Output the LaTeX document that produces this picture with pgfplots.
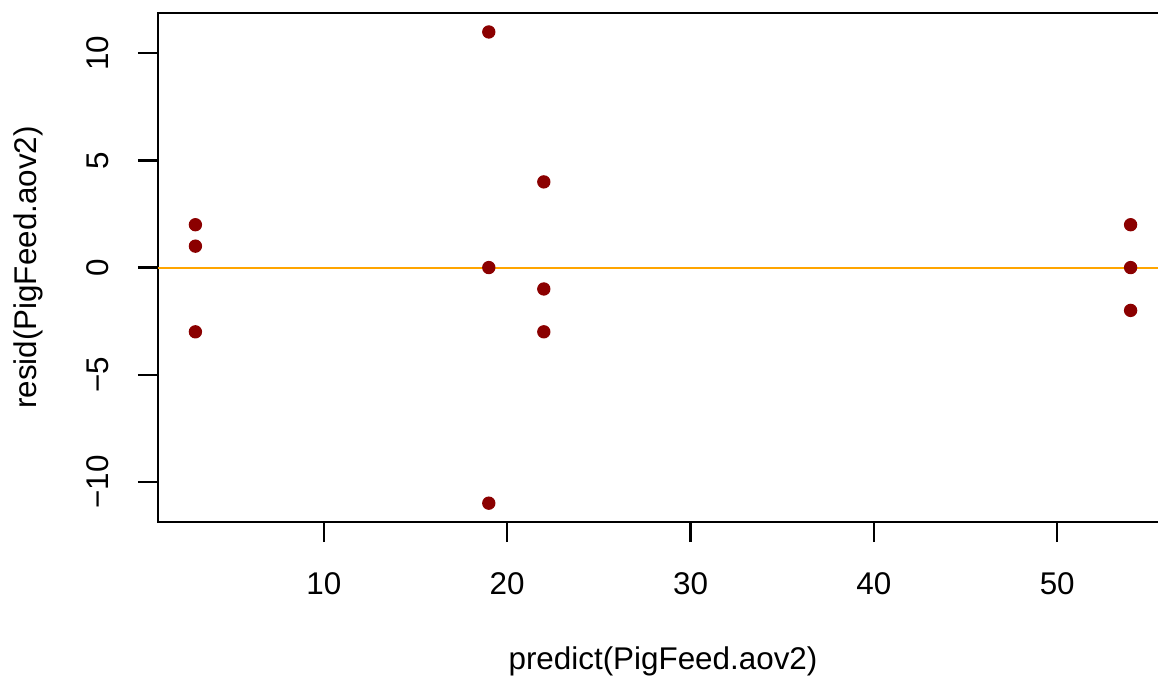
\documentclass[border=0pt]{standalone}
\usepackage{fontspec}
\setmainfont{Liberation Sans}
\usepackage{pgfplots}
\pgfplotsset{compat=1.18}
\definecolor{rdark}{HTML}{8B0000}
\definecolor{rorange}{HTML}{FFA500}
\begin{document}
\fontsize{11.3}{13.5}\selectfont
\begin{tikzpicture}[x=1pt,y=1pt]
\begin{axis}[
  at={(0,0)}, anchor=south west,
  scale only axis, width=363.6pt, height=183.2pt,
  xmin=0.96, xmax=56.04, ymin=-11.88, ymax=11.88,
  xtick={10,20,30,40,50},
  ytick={-10,-5,0,5,10},
  yticklabels={−10,−5,0,5,10},
  tick align=outside, xtick pos=bottom, ytick pos=left,
  major tick length=7.2pt,
  axis line style={line width=0.8pt},
  every tick/.style={black, line width=0.8pt},
  /pgf/number format/assume math mode=true,
  tick label style={font=\fontsize{11.3}{13.5}\selectfont},
  xticklabel style={anchor=north, yshift=-7.2pt},
  yticklabel style={xshift=-6.5pt, rotate=90, anchor=south},
  xlabel={predict(PigFeed.aov2)},
  ylabel={resid(PigFeed.aov2)},
  every axis x label/.style={at={(axis description cs:0.5,-0.2731)}, anchor=center},
  every axis y label/.style={at={(axis description cs:-0.1287,0.5)}, anchor=center, rotate=90},
  label style={font=\fontsize{11.3}{13.5}\selectfont},
]
\addplot[only marks, mark=*, mark size=2.2pt, mark options={draw=rdark, fill=rdark}] coordinates {
(3,2) (3,1) (3,-3)
(19,11) (19,0) (19,-11)
(22,4) (22,-1) (22,-3)
(54,2) (54,0) (54,-2)};
\addplot[draw=rorange, line width=0.75pt, no marks] coordinates {(0.96,0) (56.04,0)};
\end{axis}
\pgfresetboundingbox
\useasboundingbox (-56.88,-56.52) rectangle (360,187.92);
\end{tikzpicture}
\end{document}
